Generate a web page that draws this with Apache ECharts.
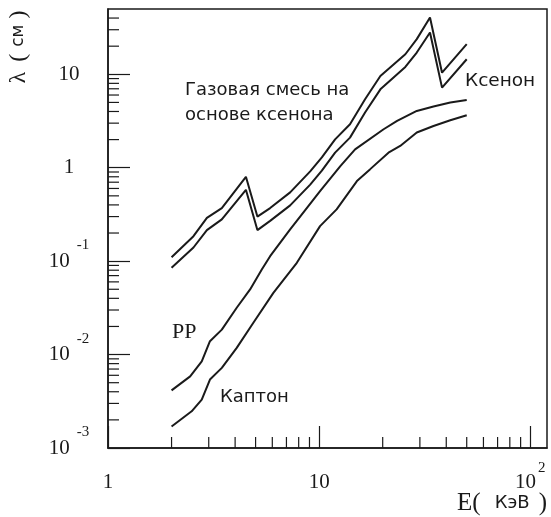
<!DOCTYPE html>
<html><head><meta charset="utf-8">
<script src="https://cdn.jsdelivr.net/npm/echarts@6/dist/echarts.min.js"></script>
<style>html,body{margin:0;padding:0;background:#fff}#c{width:551px;height:517px}</style>
</head><body><div id="c"></div>
<script>
// ---- data (energy in keV, attenuation length in cm) ----
const mixE = [2.0, 2.54, 2.94, 3.46, 4.5, 5.1, 5.86, 7.29, 9.07, 10.3, 11.9, 14.0, 16.5, 19.5, 25.6, 29.0, 33.5, 38.2, 50];
const mixL = [0.11, 0.185, 0.29, 0.37, 0.80, 0.30, 0.37, 0.545, 0.915, 1.29, 2.01, 2.92, 5.4, 9.6, 16.4, 23.8, 40.6, 10.4, 21];
const xenonE = [2.0, 2.54, 2.94, 3.46, 4.5, 5.1, 5.86, 7.29, 9.07, 10.3, 11.9, 14.0, 16.5, 19.5, 25.6, 29.0, 33.5, 38.2, 50];
const xenonL = [0.085, 0.14, 0.215, 0.28, 0.58, 0.215, 0.27, 0.395, 0.66, 0.93, 1.45, 2.1, 3.9, 6.9, 12.0, 17.1, 28, 7.2, 14.5];
const ppE = [2.0, 2.45, 2.78, 3.04, 3.46, 4.07, 4.71, 5.35, 5.86, 7.29, 10.1, 12.6, 14.8, 20.2, 23.4, 29.0, 34.8, 41.8, 50];
const ppL = [0.00414, 0.00585, 0.00847, 0.0139, 0.0185, 0.0317, 0.0498, 0.0815, 0.113, 0.219, 0.562, 1.04, 1.57, 2.58, 3.17, 4.05, 4.52, 4.99, 5.32];
const kaptonE = [2.0, 2.49, 2.78, 3.04, 3.46, 4.07, 4.88, 6.07, 7.84, 10.1, 12.1, 15.1, 17.4, 21.3, 24.2, 29.0, 34.8, 41.8, 50];
const kaptonL = [0.0017, 0.00247, 0.0033, 0.0054, 0.0072, 0.0118, 0.0219, 0.0458, 0.096, 0.237, 0.358, 0.72, 0.96, 1.45, 1.71, 2.38, 2.80, 3.22, 3.65];

// ---- ticks and tick labels ----
const xTickValues = [1, 10, 100];
const xTickBase = ['1', '10', '10'];
const xTickExp = ['', '', '2'];
const yTickValues = [0.001, 0.01, 0.1, 1, 10];
const yTickBase = ['10', '10', '10', '1', '10'];
const yTickExp = ['-3', '-2', '-1', '', ''];
const xMinorTicks = [2, 3, 4, 5, 6, 7, 8, 9, 20, 30, 40, 50, 60, 70, 80, 90];
const yMinorTicks = [0.002, 0.003, 0.004, 0.005, 0.006, 0.007, 0.008, 0.009,
  0.02, 0.03, 0.04, 0.05, 0.06, 0.07, 0.08, 0.09,
  0.2, 0.3, 0.4, 0.5, 0.6, 0.7, 0.8, 0.9,
  2, 3, 4, 5, 6, 7, 8, 9, 20, 30, 40];
const xMin = 1, xMax = 120, yMin = 0.001, yMax = 50;

const INK = '#1a1a1a';
const SERIF = 'Liberation Serif';
const SANS = 'DejaVu Sans';

function pair(E, L) { return E.map((e, i) => [e, L[i]]); }
function labelFor(values, base, exp, v) {
  for (let i = 0; i < values.length; i++) {
    if (Math.abs(Math.log10(v) - Math.log10(values[i])) < 1e-6) {
      return exp[i] ? '{b|' + base[i] + '}{s|' + exp[i] + '}' : '{b|' + base[i] + '}';
    }
  }
  return '';
}

const chart = echarts.init(document.getElementById('c'), null, { renderer: 'canvas' });
const lineStyle = { color: INK, width: 2 };
function curve(name, E, L) {
  return { name, type: 'line', data: pair(E, L), symbol: 'none', lineStyle, silent: true, animation: false };
}

chart.setOption({
  animation: false,
  backgroundColor: '#fff',
  grid: { left: 108, right: 4, top: 9, bottom: 69, show: true, borderColor: INK, borderWidth: 1.5 },
  xAxis: {
    type: 'log', logBase: 10, min: xMin, max: xMax,
    axisLine: { show: true, lineStyle: { color: INK, width: 1.5 } },
    axisTick: { show: true, inside: true, length: 22, lineStyle: { color: INK, width: 1.2 } },
    splitLine: { show: false },
    axisLabel: {
      showMinLabel: true, showMaxLabel: false, margin: 34, verticalAlign: 'middle', color: INK,
      formatter: v => labelFor(xTickValues, xTickBase, xTickExp, v),
      rich: {
        b: { fontFamily: SERIF, fontSize: 21, color: INK, verticalAlign: 'middle' },
        s: { fontFamily: SERIF, fontSize: 15, lineHeight: 15, color: INK, padding: [0, 0, 28, 2], verticalAlign: 'middle' }
      }
    }
  },
  yAxis: {
    type: 'log', logBase: 10, min: yMin, max: yMax,
    axisLine: { show: true, lineStyle: { color: INK, width: 1.5 } },
    axisTick: { show: true, inside: true, length: 22, lineStyle: { color: INK, width: 1.2 } },
    splitLine: { show: false },
    axisLabel: {
      showMinLabel: true, showMaxLabel: false, margin: 39, align: 'center', verticalAlign: 'middle', color: INK,
      formatter: v => labelFor(yTickValues, yTickBase, yTickExp, v),
      rich: {
        b: { fontFamily: SERIF, fontSize: 21, color: INK, verticalAlign: 'middle' },
        s: { fontFamily: SERIF, fontSize: 15, lineHeight: 15, color: INK, padding: [0, 0, 32, 7], verticalAlign: 'middle' }
      }
    }
  },
  series: [
    curve('Газовая смесь на основе ксенона', mixE, mixL),
    curve('Ксенон', xenonE, xenonL),
    curve('PP', ppE, ppL),
    curve('Каптон', kaptonE, kaptonL),
    {
      type: 'custom', silent: true, animation: false,
      data: xMinorTicks.map(v => [v, yMin]),
      renderItem: (params, api) => {
        const p = api.coord([api.value(0), api.value(1)]);
        return { type: 'line', shape: { x1: p[0], y1: p[1], x2: p[0], y2: p[1] - 11 }, style: { stroke: INK, lineWidth: 1.2 } };
      }
    },
    {
      type: 'custom', silent: true, animation: false,
      data: yMinorTicks.map(v => [xMin, v]),
      renderItem: (params, api) => {
        const p = api.coord([api.value(0), api.value(1)]);
        return { type: 'line', shape: { x1: p[0], y1: p[1], x2: p[0] + 11, y2: p[1] }, style: { stroke: INK, lineWidth: 1.2 } };
      }
    }
  ],
  graphic: [
    { type: 'text', x: 185, y: 90, style: { text: 'Газовая смесь на', font: '18px "DejaVu Sans"', fill: INK, textAlign: 'left', textVerticalAlign: 'middle' } },
    { type: 'text', x: 185, y: 115, style: { text: 'основе ксенона', font: '18px "DejaVu Sans"', fill: INK, textAlign: 'left', textVerticalAlign: 'middle' } },
    { type: 'text', x: 465, y: 81, style: { text: 'Ксенон', font: '18.5px "DejaVu Sans"', fill: INK, textAlign: 'left', textVerticalAlign: 'middle' } },
    { type: 'text', x: 220, y: 397, style: { text: 'Каптон', font: '18px "DejaVu Sans"', fill: INK, textAlign: 'left', textVerticalAlign: 'middle' } },
    { type: 'text', x: 172, y: 332, style: { text: 'PP', font: '22px "Liberation Serif"', fill: INK, textAlign: 'left', textVerticalAlign: 'middle' } },
    { type: 'text', x: 547, y: 503, style: {
        text: '{a|E(}{b|КэВ}{a|)}', textAlign: 'right', textVerticalAlign: 'middle',
        rich: { a: { fontFamily: SERIF, fontSize: 25, fill: INK, color: INK },
                b: { fontFamily: SANS, fontSize: 18, fill: INK, color: INK, padding: [0, 9, 0, 14] } } } },
    { type: 'text', x: 19, y: 47, rotation: Math.PI / 2, style: {
        text: '{a|λ}{p|(}{b|см}{a|)}', textAlign: 'center', textVerticalAlign: 'middle',
        rich: { a: { fontFamily: SERIF, fontSize: 24, fill: INK, color: INK },
                p: { fontFamily: SERIF, fontSize: 24, fill: INK, color: INK, padding: [0, 0, 0, 10] },
                b: { fontFamily: SANS, fontSize: 17, fill: INK, color: INK, padding: [0, 6, 0, 7] } } } }
  ]
});
</script>
</body></html>
